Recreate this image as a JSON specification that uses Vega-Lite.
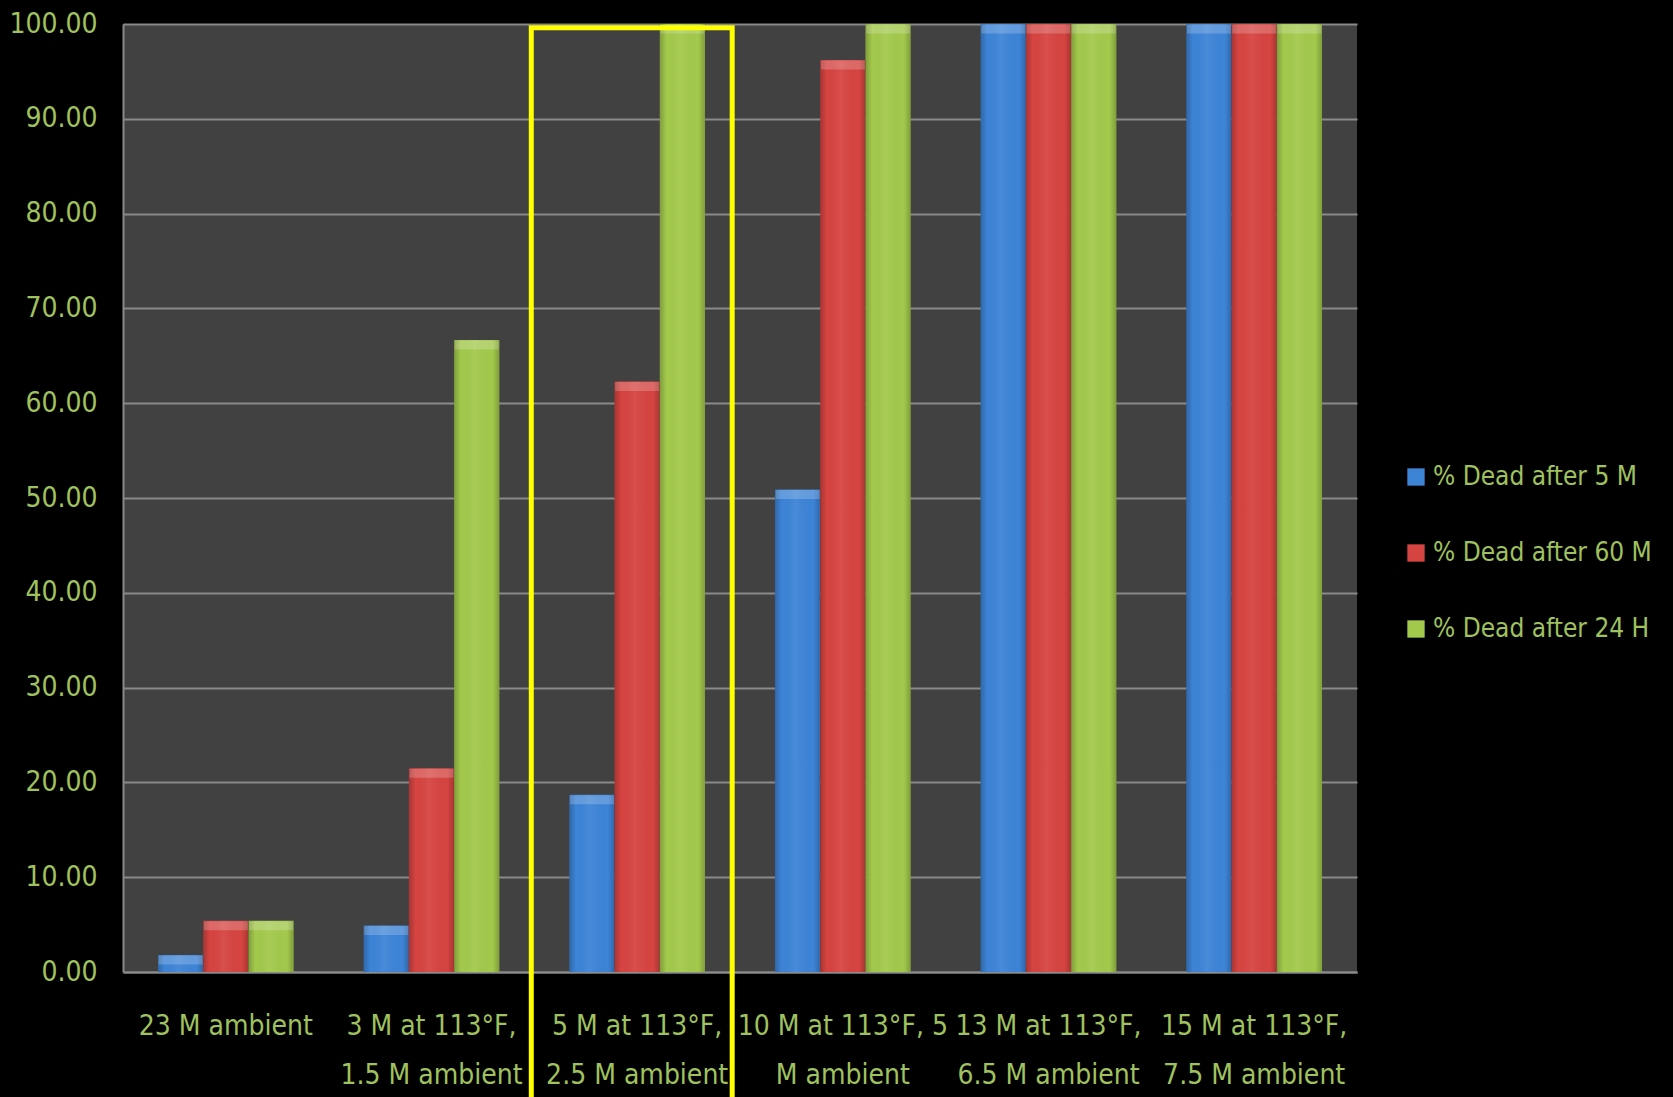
{
  "$schema": "https://vega.github.io/schema/vega-lite/v6.json",
  "width": 1234,
  "height": 948,
  "autosize": {"type": "none"},
  "padding": {"left": 123, "top": 24, "right": 316, "bottom": 125},
  "background": "#000000",
  "config": {
    "view": {"fill": "#414141", "stroke": null},
    "font": "DejaVu Sans Condensed, Lato, sans-serif",
    "axis": {
      "labelFont": "DejaVu Sans Condensed, Lato, sans-serif",
      "labelFontSize": 28,
      "labelColor": "#9fc25f",
      "domainColor": "#8a8a8a",
      "domainWidth": 2,
      "ticks": false,
      "title": null
    },
    "legend": {
      "labelFont": "DejaVu Sans Condensed, Lato, sans-serif",
      "labelFontSize": 26,
      "labelColor": "#9fc25f",
      "labelLimit": 400
    }
  },
  "datasets": {
    "mortality": [
      {"condition": "23 M ambient", "measure": "% Dead after 5 M", "pct": 1.8},
      {"condition": "23 M ambient", "measure": "% Dead after 60 M", "pct": 5.4},
      {"condition": "23 M ambient", "measure": "% Dead after 24 H", "pct": 5.4},
      {"condition": "3 M at 113°F, 1.5 M ambient", "measure": "% Dead after 5 M", "pct": 4.9},
      {"condition": "3 M at 113°F, 1.5 M ambient", "measure": "% Dead after 60 M", "pct": 21.5},
      {"condition": "3 M at 113°F, 1.5 M ambient", "measure": "% Dead after 24 H", "pct": 66.67},
      {"condition": "5 M at 113°F, 2.5 M ambient", "measure": "% Dead after 5 M", "pct": 18.7},
      {"condition": "5 M at 113°F, 2.5 M ambient", "measure": "% Dead after 60 M", "pct": 62.3},
      {"condition": "5 M at 113°F, 2.5 M ambient", "measure": "% Dead after 24 H", "pct": 100},
      {"condition": "10 M at 113°F, 5 M ambient", "measure": "% Dead after 5 M", "pct": 50.9},
      {"condition": "10 M at 113°F, 5 M ambient", "measure": "% Dead after 60 M", "pct": 96.2},
      {"condition": "10 M at 113°F, 5 M ambient", "measure": "% Dead after 24 H", "pct": 100},
      {"condition": "13 M at 113°F, 6.5 M ambient", "measure": "% Dead after 5 M", "pct": 100},
      {"condition": "13 M at 113°F, 6.5 M ambient", "measure": "% Dead after 60 M", "pct": 100},
      {"condition": "13 M at 113°F, 6.5 M ambient", "measure": "% Dead after 24 H", "pct": 100},
      {"condition": "15 M at 113°F, 7.5 M ambient", "measure": "% Dead after 5 M", "pct": 100},
      {"condition": "15 M at 113°F, 7.5 M ambient", "measure": "% Dead after 60 M", "pct": 100},
      {"condition": "15 M at 113°F, 7.5 M ambient", "measure": "% Dead after 24 H", "pct": 100}
    ],
    "highlight": [
      {"condition": "5 M at 113°F, 2.5 M ambient"}
    ]
  },
  "layer": [
    {
      "data": {"name": "mortality"},
      "encoding": {
        "x": {
          "field": "condition",
          "type": "nominal",
          "sort": null,
          "scale": {
            "domain": [
              "23 M ambient",
              "3 M at 113°F, 1.5 M ambient",
              "5 M at 113°F, 2.5 M ambient",
              "10 M at 113°F, 5 M ambient",
              "13 M at 113°F, 6.5 M ambient",
              "15 M at 113°F, 7.5 M ambient"
            ],
            "paddingInner": 0.34,
            "paddingOuter": 0.17
          },
          "axis": {
            "labelAngle": 0,
            "labelPadding": 40,
            "labelLineHeight": 49,
            "labelBaseline": "top",
            "labelLimit": 400,
            "grid": false,
            "labelExpr": "indexof(datum.label, '10 M') == 0 ? ['10 M at 113°F, 5', 'M ambient'] : split(replace(datum.label, ', ', ',|'), '|')"
          }
        },
        "xOffset": {
          "field": "measure",
          "type": "nominal",
          "scale": {"domain": ["% Dead after 5 M", "% Dead after 60 M", "% Dead after 24 H"]}
        },
        "y": {
          "field": "pct",
          "type": "quantitative",
          "scale": {"domain": [0, 100], "nice": false, "zero": true},
          "axis": {
            "values": [0, 10, 20, 30, 40, 50, 60, 70, 80, 90, 100],
            "format": ".2f",
            "grid": true,
            "gridColor": "#8a8a8a",
            "gridWidth": 2,
            "labelPadding": 26
          }
        }
      },
      "layer": [
        {
          "mark": {"type": "bar"},
          "encoding": {
            "color": {
              "field": "measure",
              "type": "nominal",
              "scale": {
                "domain": ["% Dead after 5 M", "% Dead after 60 M", "% Dead after 24 H"],
                "range": ["#3d84d7", "#d64441", "#a3c94c"]
              },
              "legend": {
                "title": null,
                "orient": "none",
                "legendX": 1280,
                "legendY": 440,
                "symbolType": "square",
                "symbolSize": 300,
                "symbolStrokeWidth": 0,
                "rowPadding": 50,
                "labelOffset": 4
              }
            }
          }
        },
        {
          "mark": {
            "type": "bar",
            "fill": {
              "gradient": "linear",
              "x1": 0, "y1": 0, "x2": 1, "y2": 0,
              "stops": [
                {"offset": 0, "color": "rgba(0,0,0,0.22)"},
                {"offset": 0.15, "color": "rgba(0,0,0,0)"},
                {"offset": 0.45, "color": "rgba(255,255,255,0.06)"},
                {"offset": 0.85, "color": "rgba(0,0,0,0)"},
                {"offset": 1, "color": "rgba(0,0,0,0.22)"}
              ]
            }
          }
        },
        {
          "mark": {"type": "tick", "thickness": 9, "size": 44, "yOffset": 5, "color": "#ffffff", "opacity": 0.2}
        }
      ]
    },
    {
      "data": {"name": "highlight"},
      "mark": {"type": "rect", "fill": null, "fillOpacity": 0, "stroke": "#ffff00", "strokeWidth": 5, "clip": false},
      "encoding": {
        "x": {"field": "condition", "type": "nominal", "sort": null, "bandPosition": -0.28},
        "x2": {"field": "condition", "bandPosition": 1.2},
        "y": {"datum": 99.6},
        "y2": {"datum": -14}
      }
    }
  ]
}
